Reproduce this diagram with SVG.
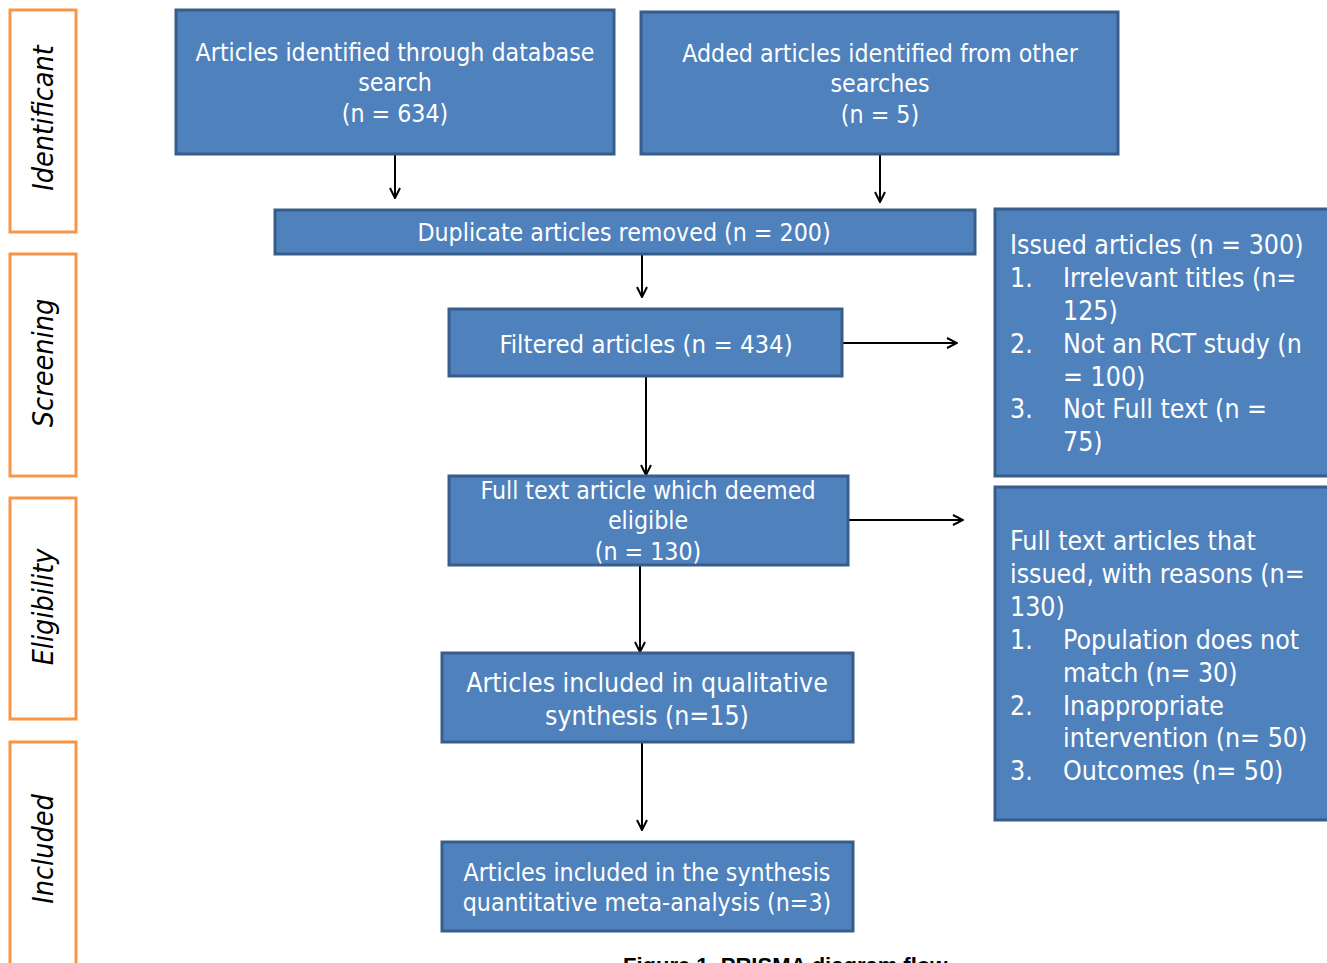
<svg xmlns="http://www.w3.org/2000/svg" width="1327" height="963" viewBox="0 0 1327 963">
<defs>
<style>
.stage{fill:#fff;stroke:#F79646;stroke-width:3}
.stl{font-family:"DejaVu Sans Condensed","DejaVu Sans",sans-serif;font-style:italic;font-size:28.5px;fill:#000;text-anchor:middle}
.box{fill:#4F81BD;stroke:#385D8A;stroke-width:3}
.t{font-family:"DejaVu Sans Condensed","DejaVu Sans",sans-serif;font-size:24.7px;fill:#fff}
.big{font-size:26.5px}
.c{text-anchor:middle}
.conn{stroke:#000;stroke-width:2;fill:none}
</style>
<marker id="ah" viewBox="0 0 12 12" refX="11" refY="6" markerWidth="12" markerHeight="12" markerUnits="userSpaceOnUse" orient="auto">
<path d="M1,1 L11,6 L1,11" fill="none" stroke="#000" stroke-width="2"/>
</marker>
</defs>
<rect width="1327" height="963" fill="#fff"/>
<g id="stage-identificant"><rect class="stage" x="10" y="10" width="66" height="222"/><text class="stl" transform="translate(53,118) rotate(-90)">Identificant</text></g>
<g id="stage-screening"><rect class="stage" x="10" y="254" width="66" height="222"/><text class="stl" transform="translate(53,363) rotate(-90)">Screening</text></g>
<g id="stage-eligibility"><rect class="stage" x="10" y="498" width="66" height="221"/><text class="stl" transform="translate(53,607) rotate(-90)">Eligibility</text></g>
<g id="stage-included"><rect class="stage" x="10" y="742" width="66" height="240"/><text class="stl" transform="translate(53,849) rotate(-90)">Included</text></g>

<g id="connectors">
<line class="conn" x1="395" y1="155" x2="395" y2="198" marker-end="url(#ah)"/>
<line class="conn" x1="880" y1="155" x2="880" y2="202" marker-end="url(#ah)"/>
<line class="conn" x1="642" y1="255" x2="642" y2="297" marker-end="url(#ah)"/>
<line class="conn" x1="646" y1="377" x2="646" y2="475" marker-end="url(#ah)"/>
<line class="conn" x1="843" y1="343" x2="957" y2="343" marker-end="url(#ah)"/>
<line class="conn" x1="848" y1="520" x2="963" y2="520" marker-end="url(#ah)"/>
<line class="conn" x1="640" y1="566" x2="640" y2="652" marker-end="url(#ah)"/>
<line class="conn" x1="642" y1="743" x2="642" y2="830" marker-end="url(#ah)"/>
</g>

<g id="n-database"><rect class="box" x="176" y="10" width="438" height="144"/>
<text class="t c" x="395" y="61">Articles identified through database</text>
<text class="t c" x="395" y="91">search</text>
<text class="t c" x="395" y="122">(n = 634)</text></g>

<g id="n-other"><rect class="box" x="641" y="12" width="477" height="142"/>
<text class="t c" x="880" y="62">Added articles identified from other</text>
<text class="t c" x="880" y="92">searches</text>
<text class="t c" x="880" y="123">(n = 5)</text></g>

<g id="n-duplicate"><rect class="box" x="275" y="210" width="700" height="44"/>
<text class="t c" x="624" y="241">Duplicate articles removed (n = 200)</text></g>

<g id="n-filtered"><rect class="box" x="449" y="309" width="393" height="67"/>
<text class="t c" x="646" y="353" style="font-size:25.5px">Filtered articles (n = 434)</text></g>

<g id="n-fulltext"><rect class="box" x="449" y="476" width="399" height="89"/>
<text class="t c" x="648" y="499">Full text article which deemed</text>
<text class="t c" x="648" y="529">eligible</text>
<text class="t c" x="648" y="560">(n = 130)</text></g>

<g id="n-qualitative"><rect class="box" x="442" y="653" width="411" height="89"/>
<text class="t big c" x="647" y="692">Articles included in qualitative</text>
<text class="t big c" x="647" y="725">synthesis (n=15)</text></g>

<g id="n-quantitative"><rect class="box" x="442" y="842" width="411" height="89"/>
<text class="t c" x="647" y="881">Articles included in the synthesis</text>
<text class="t c" x="647" y="911">quantitative meta-analysis (n=3)</text></g>

<g id="n-issued"><rect class="box" x="995" y="209" width="340" height="267"/>
<text class="t big" x="1010" y="254">Issued articles (n = 300)</text>
<text class="t big" x="1010" y="287">1.</text><text class="t big" x="1063" y="287">Irrelevant titles (n=</text>
<text class="t big" x="1063" y="320">125)</text>
<text class="t big" x="1010" y="353">2.</text><text class="t big" x="1063" y="353">Not an RCT study (n</text>
<text class="t big" x="1063" y="386">= 100)</text>
<text class="t big" x="1010" y="418">3.</text><text class="t big" x="1063" y="418">Not Full text (n =</text>
<text class="t big" x="1063" y="451">75)</text></g>

<g id="n-reasons"><rect class="box" x="995" y="487" width="340" height="333"/>
<text class="t big" x="1010" y="550">Full text articles that</text>
<text class="t big" x="1010" y="583">issued, with reasons (n=</text>
<text class="t big" x="1010" y="616">130)</text>
<text class="t big" x="1010" y="649">1.</text><text class="t big" x="1063" y="649">Population does not</text>
<text class="t big" x="1063" y="682">match (n= 30)</text>
<text class="t big" x="1010" y="715">2.</text><text class="t big" x="1063" y="715">Inappropriate</text>
<text class="t big" x="1063" y="747">intervention (n= 50)</text>
<text class="t big" x="1010" y="780">3.</text><text class="t big" x="1063" y="780">Outcomes (n= 50)</text></g>

<text x="623" y="973" font-family="Liberation Sans, Arial, sans-serif" font-weight="bold" font-size="22" fill="#000">Figure 1. PRISMA diagram flow</text>
</svg>
